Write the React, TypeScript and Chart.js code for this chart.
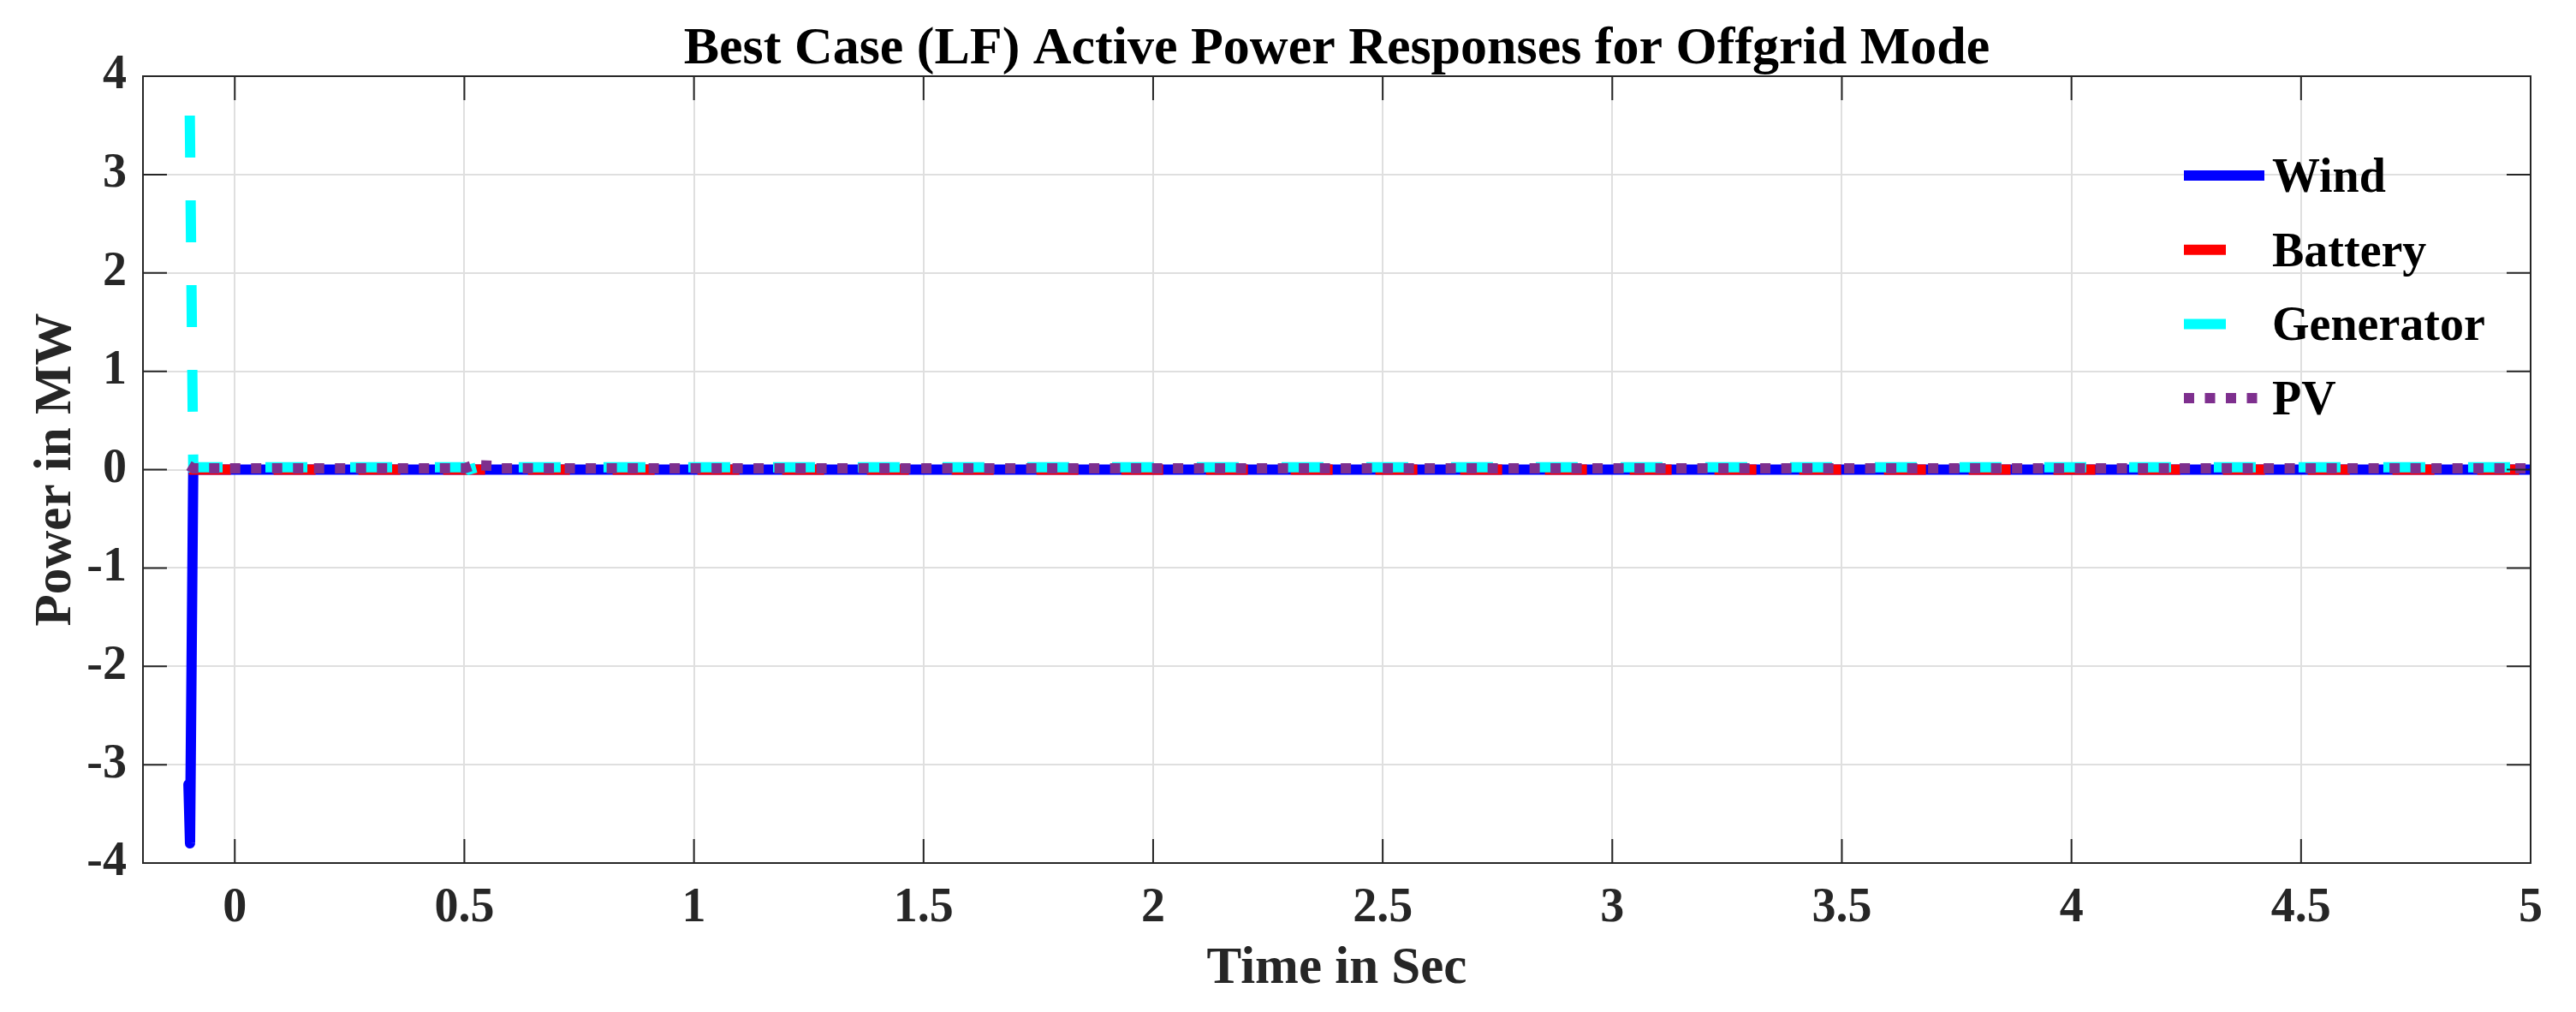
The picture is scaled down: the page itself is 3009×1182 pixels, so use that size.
import React, { useEffect, useRef } from "react";
import { Chart, registerables } from "chart.js";

Chart.register(...registerables);

// ---------- data ----------
const TITLE = "Best Case (LF) Active Power Responses for Offgrid Mode";
const X_LABEL = "Time in Sec";
const Y_LABEL = "Power in MW";

const X_TICKS = [0, 0.5, 1, 1.5, 2, 2.5, 3, 3.5, 4, 4.5, 5];
const Y_TICKS = [-4, -3, -2, -1, 0, 1, 2, 3, 4];
const X_MIN = -0.2;
const X_MAX = 5;
const Y_MIN = -4;
const Y_MAX = 4;

const SERIES_NAMES = ["Wind", "Battery", "Generator", "PV"];

const windTime = [-0.101, -0.0975, -0.0905, 0, 0.5, 1, 1.5, 2, 2.5, 3, 3.5, 4, 4.5, 5];
const windPower = [-3.2, -3.8, 0, 0, 0, 0, 0, 0, 0, 0, 0, 0, 0, 0];

const batteryTime = [-0.1, 0, 0.5, 1, 1.5, 2, 2.5, 3, 3.5, 4, 4.5, 5];
const batteryPower = [0, 0, 0, 0, 0, 0, 0, 0, 0, 0, 0, 0];

const generatorTime = [-0.098, -0.0905, 0, 0.5, 0.51, 0.53, 1, 1.5, 2, 2.5, 3, 3.5, 4, 4.5, 5];
const generatorPower = [3.6, 0.025, 0.025, 0.025, 0.0, 0.025, 0.025, 0.025, 0.025, 0.025, 0.025, 0.025, 0.025, 0.025, 0.025];

const pvTime = [-0.1, -0.09, 0, 0.5, 0.52, 0.56, 0.58, 1, 1.5, 2, 2.5, 3, 3.5, 4, 4.5, 5];
const pvPower = [0.04, 0.012, 0.012, 0.012, 0.045, 0.04, 0.012, 0.012, 0.012, 0.012, 0.012, 0.012, 0.012, 0.012, 0.012, 0.012];

// ---------- styles ----------
const FONT = '"Liberation Serif", "Times New Roman", Times, serif';
const AXIS_COLOR = "#262626";
const GRID_COLOR = "#dfdfdf";
const SERIES_COLORS = ["#0000ff", "#ff0000", "#00ffff", "#7e2f8e"];
const SERIES_DASH: number[][] = [[], [49, 50], [49, 50], [12, 12.5]];
const LINE_W = 12;

const toPoints = (t: number[], v: number[]) => t.map((x, i) => ({ x, y: v[i] }));

const decorPlugin = {
  id: "decor",
  afterDatasetsDraw(chart: any) {
    const { ctx, chartArea: a, scales } = chart;
    ctx.save();
    // axes box
    ctx.strokeStyle = AXIS_COLOR;
    ctx.lineWidth = 2;
    ctx.setLineDash([]);
    ctx.strokeRect(a.left, a.top, a.right - a.left, a.bottom - a.top);
    // inner tick marks
    const TL = 28;
    ctx.beginPath();
    for (const v of X_TICKS) {
      const px = scales.x.getPixelForValue(v);
      ctx.moveTo(px, a.bottom);
      ctx.lineTo(px, a.bottom - TL);
      ctx.moveTo(px, a.top);
      ctx.lineTo(px, a.top + TL);
    }
    for (const v of Y_TICKS) {
      const py = scales.y.getPixelForValue(v);
      ctx.moveTo(a.left, py);
      ctx.lineTo(a.left + TL, py);
      ctx.moveTo(a.right, py);
      ctx.lineTo(a.right - TL, py);
    }
    ctx.stroke();

    const cx = (a.left + a.right) / 2;
    const cy = (a.top + a.bottom) / 2;
    // title
    ctx.fillStyle = "#000";
    ctx.font = `bold 62px ${FONT}`;
    ctx.textAlign = "center";
    ctx.textBaseline = "alphabetic";
    ctx.fillText(TITLE, cx, a.top - 15);
    // x label
    ctx.fillStyle = AXIS_COLOR;
    ctx.font = `bold 61px ${FONT}`;
    ctx.fillText(X_LABEL, cx, a.bottom + 140);
    // y label
    ctx.save();
    ctx.translate(a.left - 85, cy);
    ctx.rotate(-Math.PI / 2);
    ctx.fillText(Y_LABEL, 0, 0);
    ctx.restore();

    // legend
    const lx0 = a.right - 405;
    const lx1 = lx0 + 94;
    const ly0 = a.top + 116;
    const dy = 86.7;
    ctx.font = `bold 56px ${FONT}`;
    ctx.textAlign = "left";
    chart.data.datasets.forEach((ds: any, i: number) => {
      const y = ly0 + i * dy;
      ctx.save();
      ctx.strokeStyle = ds.borderColor;
      ctx.lineWidth = LINE_W;
      ctx.lineCap = "butt";
      ctx.setLineDash(ds.borderDash || []);
      ctx.beginPath();
      ctx.moveTo(lx0, y);
      ctx.lineTo(lx1, y);
      ctx.stroke();
      ctx.restore();
      ctx.fillStyle = "#000";
      ctx.fillText(ds.label, lx1 + 9, y + 19);
    });
    ctx.restore();
  },
};

export default function App() {
  const ref = useRef<HTMLCanvasElement | null>(null);

  useEffect(() => {
    document.body.style.margin = "0";
    const canvas = ref.current;
    if (!canvas) return;
    const seriesTimes = [windTime, batteryTime, generatorTime, pvTime];
    const seriesValues = [windPower, batteryPower, generatorPower, pvPower];
    const datasets = SERIES_NAMES.map((name, i) => ({
      label: name,
      data: toPoints(seriesTimes[i], seriesValues[i]),
      borderColor: SERIES_COLORS[i],
      backgroundColor: SERIES_COLORS[i],
      borderWidth: LINE_W,
      borderDash: SERIES_DASH[i],
      borderCapStyle: i === 0 ? "round" : "butt",
      borderJoinStyle: i === 0 ? "round" : "miter",
      pointRadius: 0,
      tension: 0,
      fill: false,
      order: SERIES_NAMES.length - 1 - i,
    }));

    const tickFont = { family: FONT, size: 56, weight: "bold" as const };

    const chart = new Chart(canvas, {
      type: "line",
      data: { datasets },
      plugins: [decorPlugin],
      options: {
        animation: false,
        responsive: false,
        devicePixelRatio: 1,
        layout: { padding: { top: 89, right: 53, bottom: 0, left: 0 } },
        plugins: {
          legend: { display: false },
          title: { display: false },
          tooltip: { enabled: false },
        },
        scales: {
          x: {
            type: "linear",
            min: X_MIN,
            max: X_MAX,
            afterBuildTicks: (s: any) => {
              s.ticks = X_TICKS.map((v) => ({ value: v }));
            },
            afterFit: (s: any) => {
              s.height = 174;
            },
            grid: { color: GRID_COLOR, lineWidth: 2, drawTicks: false },
            border: { display: false },
            ticks: {
              font: tickFont,
              color: AXIS_COLOR,
              padding: 20,
              maxRotation: 0,
              autoSkip: false,
              callback: (v: any) => String(v),
            },
          },
          y: {
            type: "linear",
            min: Y_MIN,
            max: Y_MAX,
            afterBuildTicks: (s: any) => {
              s.ticks = Y_TICKS.map((v) => ({ value: v }));
            },
            afterFit: (s: any) => {
              s.width = 167;
            },
            grid: { color: GRID_COLOR, lineWidth: 2, drawTicks: false },
            border: { display: false },
            ticks: {
              font: tickFont,
              color: AXIS_COLOR,
              padding: 19,
              autoSkip: false,
              callback: (v: any) => String(v),
            },
          },
        },
      },
    } as any);

    return () => chart.destroy();
  }, []);

  return (
    <div style={{ width: 3009, height: 1182, background: "#fff" }}>
      <canvas ref={ref} width={3009} height={1182} style={{ display: "block", width: 3009, height: 1182 }} />
    </div>
  );
}
